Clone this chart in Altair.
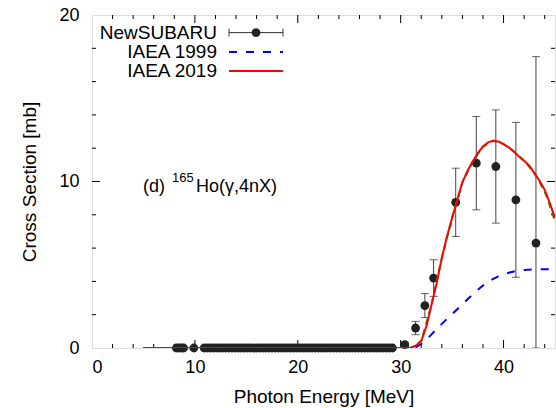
import altair as alt
import pandas as pd

# ---------------- data ----------------
# NewSUBARU measured points (MeV, mb, +/- error)
flat_energy = [8.2, 8.45, 8.7, 8.9, 9.9,
               10.9, 11.2, 11.5, 11.8, 12.1, 12.4, 12.7, 13.0, 13.3, 13.6,
               13.9, 14.2, 14.5, 14.8, 15.1, 15.4, 15.7, 16.0, 16.3, 16.6,
               16.9, 17.2, 17.5, 17.8, 18.1, 18.4, 18.7, 19.0, 19.3, 19.6,
               19.9, 20.2, 20.5, 20.8, 21.1, 21.4, 21.7, 22.0, 22.3, 22.6,
               22.9, 23.2, 23.5, 23.8, 24.1, 24.4, 24.7, 25.0, 25.3, 25.6,
               25.9, 26.2, 26.5, 26.8, 27.1, 27.4, 27.7, 28.0, 28.3, 28.6,
               28.9, 29.2]
flat_xs = [0.0, 0.0, 0.0, 0.0, 0.0,
           0.0, 0.0, 0.0, 0.0, 0.0, 0.0, 0.0, 0.0, 0.0, 0.0,
           0.0, 0.0, 0.0, 0.0, 0.0, 0.0, 0.0, 0.0, 0.0, 0.0,
           0.0, 0.0, 0.0, 0.0, 0.0, 0.0, 0.0, 0.0, 0.0, 0.0,
           0.0, 0.0, 0.0, 0.0, 0.0, 0.0, 0.0, 0.0, 0.0, 0.0,
           0.0, 0.0, 0.0, 0.0, 0.0, 0.0, 0.0, 0.0, 0.0, 0.0,
           0.0, 0.0, 0.0, 0.0, 0.0, 0.0, 0.0, 0.0, 0.0, 0.0,
           0.0, 0.0]

meas_energy = [30.4, 31.45, 32.35, 33.2, 35.35, 37.35, 39.25, 41.2, 43.15]
meas_xs = [0.2, 1.2, 2.55, 4.2, 8.75, 11.1, 10.9, 8.9, 6.3]
meas_err = [0.1, 0.4, 0.72, 1.1, 2.05, 2.8, 3.4, 4.65, 11.2]

# IAEA 1999 evaluation
iaea99_energy = [5, 10, 20, 30, 31, 31.5, 32, 32.5, 33, 33.5, 34, 34.5, 35,
                 35.5, 36, 36.5, 37, 37.5, 38, 38.5, 39, 39.5, 40, 40.5, 41,
                 41.5, 42, 43, 44, 45]
iaea99_xs = [0, 0, 0, 0, 0, 0.06, 0.24, 0.5, 0.82, 1.15, 1.45, 1.75, 2.03,
             2.33, 2.63, 2.93, 3.22, 3.5, 3.75, 3.97, 4.15, 4.3, 4.42, 4.52,
             4.6, 4.65, 4.68, 4.72, 4.73, 4.73]

# IAEA 2019 evaluation
iaea19_energy = [5, 10, 20, 30, 30.5, 31, 31.5, 32, 32.5, 33, 33.5, 34, 34.5,
                 35, 35.5, 36, 36.5, 37, 37.5, 38, 38.5, 39, 39.5, 40, 40.5,
                 41, 41.5, 42, 42.5, 43, 43.5, 44, 44.5, 45]
iaea19_xs = [0, 0, 0, 0, 0, 0.02, 0.15, 0.42, 1.3, 2.6, 3.9, 5.4, 6.7, 7.8,
             8.9, 9.95, 10.65, 11.2, 11.7, 12.1, 12.35, 12.45, 12.4, 12.25,
             12.05, 11.8, 11.5, 11.25, 10.95, 10.5, 10.05, 9.5, 8.7, 7.8]

# third (unlabelled) curve, hidden under the IAEA 2019 curve
other_energy = [5, 30, 31, 32, 33, 34, 35, 36, 37, 38, 39, 40, 41, 42, 43,
                44, 44.5, 45]
other_xs = [0, 0, 0.02, 0.4, 2.6, 5.4, 7.8, 9.95, 11.2, 12.1, 12.45, 12.25,
            11.8, 11.25, 10.5, 9.4, 8.55, 7.6]

x_major = [10, 20, 30, 40]
x_minor = [2, 4, 6, 8, 12, 14, 16, 18, 22, 24, 26, 28, 32, 34, 36, 38, 42, 44]
y_major = [10]
y_minor = [2, 4, 6, 8, 12, 14, 16, 18]
x_labels = [0, 10, 20, 30, 40]
y_labels = [0, 10, 20]

legend_labels = ["NewSUBARU", "IAEA 1999", "IAEA 2019"]

# ---------------- layout ----------------
W, H = 463, 333
FONT = "Liberation Sans"
MAJ, MIN = 8, 4

xscale = alt.Scale(domain=[0, 45], nice=False, zero=False)
yscale = alt.Scale(domain=[0, 20], nice=False, zero=False)
xaxis = alt.Axis(values=x_labels, ticks=False, domain=False, grid=False,
                 labelFontSize=18, labelFont=FONT, labelColor="black",
                 labelPadding=10, title="Photon Energy [MeV]",
                 titleFontSize=19, titleFont=FONT, titleFontWeight="normal",
                 titleColor="black", titleX=W / 2, titleY=48,
                 titleBaseline="middle", titleAlign="center")
yaxis = alt.Axis(values=y_labels, ticks=False, domain=False, grid=False,
                 labelFontSize=18, labelFont=FONT, labelColor="black",
                 labelPadding=13, title="Cross Section [mb]",
                 titleFontSize=19, titleFont=FONT, titleFontWeight="normal",
                 titleColor="black", titleX=-63, titleY=H / 2,
                 titleAngle=-90, titleBaseline="middle", titleAlign="center")


def X(field):
    return alt.X(field, type="quantitative", scale=xscale, axis=xaxis)


def Y(field):
    return alt.Y(field, type="quantitative", scale=yscale, axis=yaxis)


flat_df = pd.DataFrame({"E": flat_energy, "xs": flat_xs})
meas_df = pd.DataFrame({"E": meas_energy, "xs": meas_xs, "err": meas_err})
meas_df["lo"] = (meas_df["xs"] - meas_df["err"]).clip(lower=0)
meas_df["hi"] = meas_df["xs"] + meas_df["err"]
pts_df = pd.concat([flat_df, meas_df[["E", "xs"]]], ignore_index=True)

df99 = pd.DataFrame({"E": iaea99_energy, "xs": iaea99_xs})
df19 = pd.DataFrame({"E": iaea19_energy, "xs": iaea19_xs})
dfo = pd.DataFrame({"E": other_energy, "xs": other_xs})

PT = "#222222"

# ---- ticks (inward, on all four sides) ----
def xticks(vals, length):
    d = pd.DataFrame({"v": vals})
    b = alt.Chart(d).mark_rule(color="black", strokeWidth=1).encode(
        x=X("v"), y=alt.value(H), y2=alt.value(H - length))
    t = alt.Chart(d).mark_rule(color="black", strokeWidth=1).encode(
        x=X("v"), y=alt.value(0), y2=alt.value(length))
    return [b, t]


def yticks(vals, length):
    d = pd.DataFrame({"v": vals})
    l = alt.Chart(d).mark_rule(color="black", strokeWidth=1).encode(
        y=Y("v"), x=alt.value(0), x2=alt.value(length))
    r = alt.Chart(d).mark_rule(color="black", strokeWidth=1).encode(
        y=Y("v"), x=alt.value(W), x2=alt.value(W - length))
    return [l, r]


tick_layers = (xticks(x_major, MAJ) + xticks(x_minor, MIN)
               + yticks(y_major, MAJ) + yticks(y_minor, MIN))

# ---- data layers ----
err_rule = alt.Chart(meas_df).mark_rule(color="#444444", strokeWidth=1,
                                        clip=True).encode(
    x=X("E"), y=Y("lo"), y2="hi")
cap_hi = alt.Chart(meas_df).mark_tick(color="#222222", orient="horizontal",
                                      size=8, thickness=1, clip=True).encode(
    x=X("E"), y=Y("hi"))
cap_lo = alt.Chart(meas_df).mark_tick(color="#222222", orient="horizontal",
                                      size=8, thickness=1, clip=True).encode(
    x=X("E"), y=Y("lo"))
points = alt.Chart(pts_df).mark_circle(size=78, color=PT, opacity=1).encode(
    x=X("E"), y=Y("xs"))

line99 = alt.Chart(df99).mark_line(color="#0000ff", strokeWidth=2,
                                   strokeDash=[8, 9], clip=True).encode(
    x=X("E"), y=Y("xs"))
lineo = alt.Chart(dfo).mark_line(color="#00a000", strokeWidth=2,
                                 strokeDash=[6, 5], clip=True).encode(
    x=X("E"), y=Y("xs"))
line19 = alt.Chart(df19).mark_line(color="#ff0000", strokeWidth=2,
                                   clip=True).encode(
    x=X("E"), y=Y("xs"))

# ---- legend (top-left, labels right-aligned) ----
one = pd.DataFrame({"a": [0]})
LX_TEXT, LX0, LX1, LXC = 125, 137, 191, 164
LY = [17.6, 37.0, 56.0]


def ltext(label, y):
    return alt.Chart(one).mark_text(align="right", baseline="middle",
                                    fontSize=19, font=FONT,
                                    color="black").encode(
        x=alt.value(LX_TEXT), y=alt.value(y), text=alt.value(label))


leg = [ltext(legend_labels[i], LY[i]) for i in range(3)]
leg.append(alt.Chart(one).mark_rule(color="#333333", strokeWidth=1).encode(
    x=alt.value(LX0), x2=alt.value(LX1), y=alt.value(LY[0])))
leg.append(alt.Chart(one).mark_rule(color="#333333", strokeWidth=1).encode(
    x=alt.value(LX0), y=alt.value(LY[0] - 4), y2=alt.value(LY[0] + 4)))
leg.append(alt.Chart(one).mark_rule(color="#333333", strokeWidth=1).encode(
    x=alt.value(LX1), y=alt.value(LY[0] - 4), y2=alt.value(LY[0] + 4)))
leg.append(alt.Chart(one).mark_circle(size=78, color=PT, opacity=1).encode(
    x=alt.value(LXC), y=alt.value(LY[0])))
leg.append(alt.Chart(one).mark_rule(color="#0000ff", strokeWidth=2,
                                    strokeDash=[8, 9]).encode(
    x=alt.value(LX0), x2=alt.value(LX1), y=alt.value(LY[1])))
leg.append(alt.Chart(one).mark_rule(color="#ff0000", strokeWidth=2).encode(
    x=alt.value(LX0), x2=alt.value(LX1), y=alt.value(LY[2])))

# ---- annotation ----
ann = [
    alt.Chart(one).mark_text(align="left", baseline="alphabetic", fontSize=18,
                             font=FONT, color="black").encode(
        x=alt.value(51), y=alt.value(177), text=alt.value("(d)")),
    alt.Chart(one).mark_text(align="left", baseline="alphabetic", fontSize=13,
                             font=FONT, color="black").encode(
        x=alt.value(80), y=alt.value(167), text=alt.value("165")),
    alt.Chart(one).mark_text(align="left", baseline="alphabetic", fontSize=18,
                             font=FONT, color="black").encode(
        x=alt.value(104), y=alt.value(177), text=alt.value("Ho(γ,4nX)")),
]

chart = alt.layer(
    *tick_layers, err_rule, cap_hi, cap_lo, points, line99, lineo, line19,
    *leg, *ann
).properties(
    width=W, height=H,
    autosize=alt.AutoSizeParams(type="none"),
    padding={"left": 92, "top": 15, "right": 1, "bottom": 60},
).configure_view(
    stroke="black", strokeWidth=2
).configure(background="white")

chart.save("out.html", embed_options={"renderer": "svg", "actions": False})
